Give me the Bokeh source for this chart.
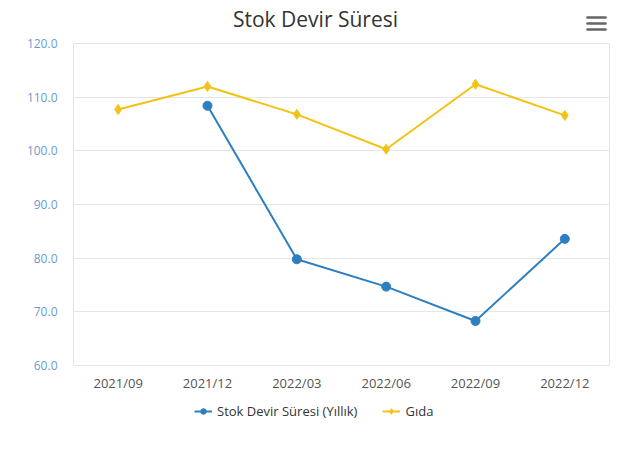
from bokeh.plotting import figure
from bokeh.layouts import column
from bokeh.models import Legend, LegendItem, Label, FixedTicker, NumeralTickFormatter, Range1d
from bokeh.embed import file_html
from bokeh.resources import INLINE

categories = ["2021/09", "2021/12", "2022/03", "2022/06", "2022/09", "2022/12"]
stok_categories = ["2021/12", "2022/03", "2022/06", "2022/09", "2022/12"]
stok_values = [108.4, 79.8, 74.7, 68.3, 83.6]
gida_values = [107.7, 112.0, 106.8, 100.3, 112.4, 106.6]
y_ticks = [60, 70, 80, 90, 100, 110, 120]
title_text = "Stok Devir Süresi"
stok_label = "Stok Devir Süresi (Yıllık)"
gida_label = "Gıda"

FONT = "Open Sans"
BLUE = "#2E7FC0"
YELLOW = "#F2C314"
W = 618


def bare(fig):
    fig.axis.visible = False
    fig.grid.grid_line_color = None
    fig.outline_line_color = None
    fig.background_fill_color = None
    fig.border_fill_color = "white"


# ---- header: title + menu icon (frame is aligned with the chart frame, page x 73..609)
head = figure(width=W, height=36, x_range=Range1d(73, 609), y_range=Range1d(36, 0),
              output_backend="svg", toolbar_location=None, min_border=0)
bare(head)
head.add_layout(Label(x=315, y=18, text=title_text, text_font=FONT, text_font_size="21px",
                      text_color="#333333", text_align="center", text_baseline="middle"))
head.segment(x0=[587, 587, 587], y0=[17, 23, 29], x1=[605, 605, 605], y1=[17, 23, 29],
             line_color="#666666", line_width=2.6, line_cap="round")

# ---- main chart
p = figure(x_range=categories, y_range=Range1d(60, 120),
           frame_width=536, frame_height=322, width=W,
           output_backend="svg", toolbar_location=None,
           min_border_left=73, min_border_right=9, min_border_top=7, min_border_bottom=28)

p.outline_line_color = "#dfe5ec"
p.xgrid.grid_line_color = None
p.ygrid.grid_line_color = "#e6e6e6"

p.yaxis.ticker = FixedTicker(ticks=y_ticks)
p.yaxis.formatter = NumeralTickFormatter(format="0.0")
p.yaxis.axis_line_color = None
p.yaxis.major_tick_line_color = None
p.yaxis.minor_tick_line_color = None
p.yaxis.major_tick_out = 0
p.yaxis.major_tick_in = 0
p.yaxis.major_label_text_color = "#6b9bd1"
p.yaxis.major_label_text_font = FONT
p.yaxis.major_label_text_font_size = "12px"
p.yaxis.major_label_standoff = 16

p.xaxis.axis_line_color = None
p.xaxis.major_tick_line_color = None
p.xaxis.minor_tick_line_color = None
p.xaxis.major_tick_out = 0
p.xaxis.major_tick_in = 0
p.xaxis.major_label_text_color = "#555555"
p.xaxis.major_label_text_font = FONT
p.xaxis.major_label_text_font_size = "13px"
p.xaxis.major_label_standoff = 8

p.line(stok_categories, stok_values, line_color=BLUE, line_width=2)
p.scatter(stok_categories, stok_values, marker="circle", size=9, fill_color=BLUE, line_color=BLUE)
p.line(categories, gida_values, line_color=YELLOW, line_width=2)
p.scatter(categories, gida_values, marker="diamond", size=10, fill_color=YELLOW, line_color=YELLOW)

# ---- legend strip (series re-drawn outside its visible range, used only as legend keys)
leg = figure(width=W, height=50, x_range=categories, y_range=Range1d(0, 1),
             output_backend="svg", toolbar_location=None, min_border=0)
bare(leg)
ls_line = leg.line(stok_categories, stok_values, line_color=BLUE, line_width=2)
ls_pts = leg.scatter(stok_categories, stok_values, marker="circle", size=7,
                     fill_color=BLUE, line_color=BLUE)
lg_line = leg.line(categories, gida_values, line_color=YELLOW, line_width=2)
lg_pts = leg.scatter(categories, gida_values, marker="diamond", size=8,
                     fill_color=YELLOW, line_color=YELLOW)

legend = Legend(items=[
    LegendItem(label=stok_label, renderers=[ls_line, ls_pts]),
    LegendItem(label=gida_label, renderers=[lg_line, lg_pts]),
], orientation="horizontal", location=(121, 24))
legend.border_line_color = None
legend.background_fill_alpha = 0
legend.label_text_font = FONT
legend.label_text_font_size = "13px"
legend.label_text_color = "#333333"
legend.glyph_width = 18
legend.glyph_height = 14
legend.spacing = 25
legend.label_standoff = 5
legend.margin = 0
legend.padding = 6
leg.add_layout(legend)

layout = column(head, p, leg, spacing=0)
open("out.html", "w").write(file_html(layout, INLINE))
